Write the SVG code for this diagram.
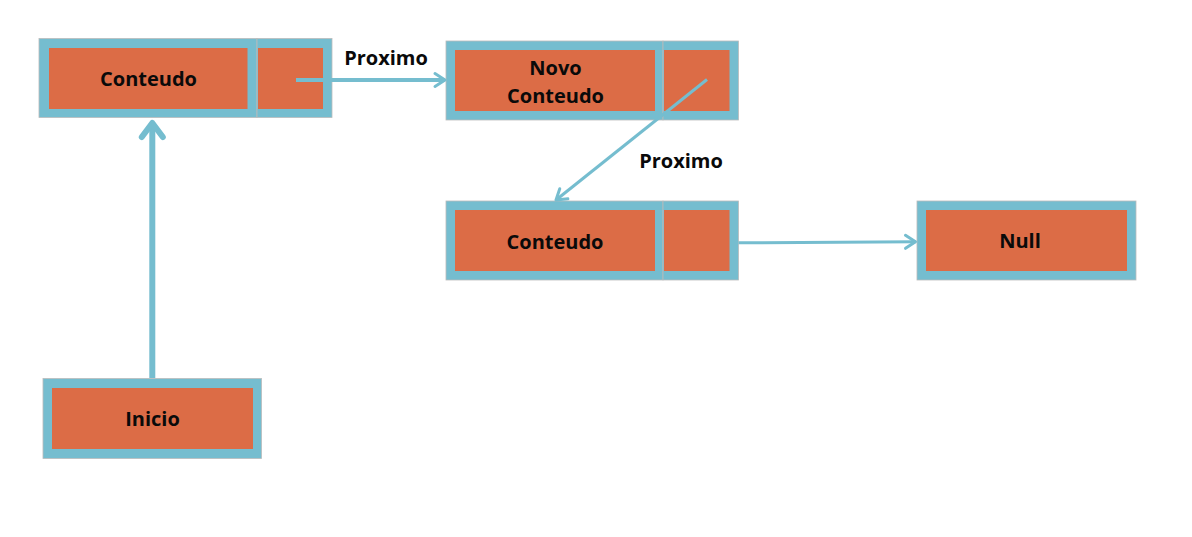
<svg xmlns="http://www.w3.org/2000/svg" width="1192" height="537" viewBox="0 0 1192 537">
<style>
.frame{fill:#75BDCF;stroke:#BBBBBB;stroke-width:0.8}
.cell{fill:#DC6C46}
.lbl{font-family:"Open Sans","Noto Sans","DejaVu Sans",sans-serif;font-weight:700;font-size:20px;fill:#0A0A0A;text-anchor:middle}
.conn{stroke:#75BDCF;fill:none}
</style>
<defs>
<marker id="ah" markerUnits="userSpaceOnUse" orient="auto" overflow="visible" refX="0" refY="0" markerWidth="20" markerHeight="20">
<path d="M-10,-6.5 L0,0 L-10,6.5" fill="none" stroke="#75BDCF" stroke-width="3" stroke-linecap="round" stroke-linejoin="round"/>
</marker>
<marker id="ahBig" markerUnits="userSpaceOnUse" orient="auto" overflow="visible" refX="0" refY="0" markerWidth="30" markerHeight="30">
<path d="M-14,-10.5 L0,0 L-14,10.5" fill="none" stroke="#75BDCF" stroke-width="6" stroke-linecap="round" stroke-linejoin="round"/>
</marker>
</defs>
<rect width="1192" height="537" fill="#FFFFFF"/>

<g id="node-conteudo1">
<rect class="frame" x="39" y="38.5" width="218" height="79"/>
<rect class="cell" x="49" y="48" width="198.5" height="61"/>
<rect class="frame" x="257" y="38.5" width="75" height="79"/>
<rect class="cell" x="258" y="48" width="65" height="61"/>
<text class="lbl" x="148.5" y="86">Conteudo</text>
</g>

<g id="node-novo">
<rect class="frame" x="446" y="41" width="217" height="79"/>
<rect class="cell" x="455" y="50" width="200" height="61"/>
<rect class="frame" x="663" y="41" width="75.5" height="79"/>
<rect class="cell" x="664" y="50" width="65.5" height="61"/>
<text class="lbl" x="555.5" y="75">Novo</text>
<text class="lbl" x="555.5" y="103">Conteudo</text>
</g>

<g id="node-conteudo2">
<rect class="frame" x="446" y="201" width="217" height="79"/>
<rect class="cell" x="455" y="210" width="200" height="61"/>
<rect class="frame" x="663" y="201" width="75.5" height="79"/>
<rect class="cell" x="664" y="210" width="65.5" height="61"/>
<text class="lbl" x="555" y="248.5">Conteudo</text>
</g>

<g id="node-null">
<rect class="frame" x="917" y="201" width="219" height="79"/>
<rect class="cell" x="926" y="210" width="201" height="61"/>
<text class="lbl" x="1020" y="248">Null</text>
</g>

<g id="node-inicio">
<rect class="frame" x="43" y="378.5" width="218.5" height="80"/>
<rect class="cell" x="52" y="388" width="201" height="61"/>
<text class="lbl" x="152.5" y="426">Inicio</text>
</g>

<g id="connectors">
<line class="conn" x1="296" y1="80" x2="445" y2="80" stroke-width="4" marker-end="url(#ah)"/>
<line class="conn" x1="707" y1="79.5" x2="556" y2="200" stroke-width="3" marker-end="url(#ah)"/>
<line class="conn" x1="738.5" y1="242.8" x2="915.5" y2="241.8" stroke-width="3" marker-end="url(#ah)"/>
<line class="conn" x1="152.3" y1="378" x2="152.3" y2="123" stroke-width="6" marker-end="url(#ahBig)"/>
<text class="lbl" x="386" y="64.5">Proximo</text>
<text class="lbl" x="681" y="167.5">Proximo</text>
</g>
</svg>
